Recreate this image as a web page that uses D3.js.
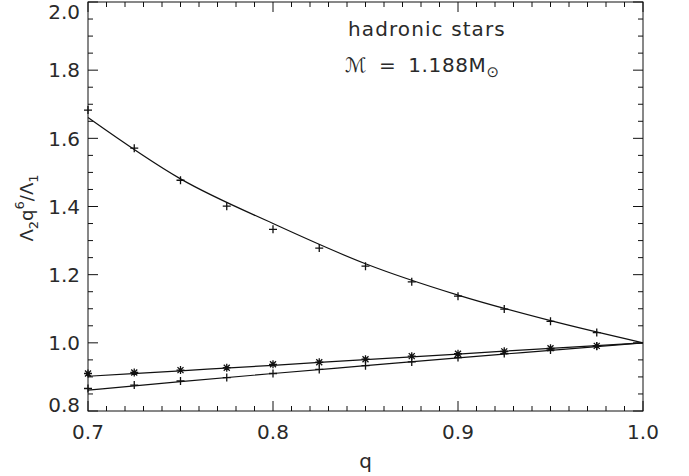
<!DOCTYPE html>
<html lang="en">
<head>
    <meta charset="UTF-8">
    <title>hadronic stars</title>
    <script src="https://d3js.org/d3.v7.min.js"></script>
    <style>
        body { margin: 0; background: #fff; }
        text { font-family: "DejaVu Sans", sans-serif; fill: #2a2a2a; }
    </style>
</head>
<body>
    <div id="svg-element"></div>
    <script>
        // sampled q values (markers)
        var qPoints = [0.7, 0.725, 0.75, 0.775, 0.8, 0.825, 0.85, 0.875, 0.9, 0.925, 0.95, 0.975];
        var upperPlus = [1.683, 1.571, 1.477, 1.401, 1.333, 1.278, 1.225, 1.179, 1.137, 1.099, 1.063, 1.030];
        var lowerStar = [0.910, 0.913, 0.920, 0.927, 0.937, 0.943, 0.952, 0.961, 0.968, 0.975, 0.984, 0.991];
        var lowerPlus = [0.866, 0.876, 0.888, 0.898, 0.910, 0.922, 0.933, 0.944, 0.957, 0.969, 0.979, 0.990];
        // fitted curves
        var fitQ = [0.7, 0.75, 0.8, 0.85, 0.9, 0.95, 1.0];
        var upperFit = [1.661, 1.481, 1.350, 1.232, 1.140, 1.065, 1.0];
        var starFit = [0.902, 0.918, 0.934, 0.951, 0.967, 0.984, 1.0];
        var plusFit = [0.861, 0.886, 0.910, 0.933, 0.956, 0.978, 1.0];

        var xTicks = [0.7, 0.8, 0.9, 1.0];
        var yTicks = [0.8, 1.0, 1.2, 1.4, 1.6, 1.8, 2.0];

        var width = 689, height = 476;
        var plotLeft = 88, plotRight = 643, plotTop = 2, plotBottom = 411;

        var x = d3.scaleLinear().domain([0.7, 1.0]).range([plotLeft, plotRight]);
        var y = d3.scaleLinear().domain([0.8, 2.0]).range([plotBottom, plotTop]);

        var svg = d3.select('#svg-element')
            .append('svg')
            .attr('width', width)
            .attr('height', height);

        // ticks on all four sides, pointing inward
        var xMinor = d3.range(70, 101).map(function(d) { return d / 100; });
        var yMinor = d3.range(16, 41).map(function(d) { return d / 20; });

        var axes = svg.append('g').attr('stroke', '#111').attr('stroke-width', 1);

        function isMajor(v, list) {
            return list.some(function(t) { return Math.abs(t - v) < 1e-6; });
        }

        xMinor.forEach(function(v) {
            var len = isMajor(v, xTicks) ? 10 : 5;
            axes.append('line').attr('x1', x(v)).attr('x2', x(v)).attr('y1', plotBottom).attr('y2', plotBottom - len);
            axes.append('line').attr('x1', x(v)).attr('x2', x(v)).attr('y1', plotTop).attr('y2', plotTop + len);
        });
        yMinor.forEach(function(v) {
            var len = isMajor(v, yTicks) ? 10 : 5;
            axes.append('line').attr('x1', plotLeft).attr('x2', plotLeft + len).attr('y1', y(v)).attr('y2', y(v));
            axes.append('line').attr('x1', plotRight).attr('x2', plotRight - len).attr('y1', y(v)).attr('y2', y(v));
        });

        axes.append('rect')
            .attr('x', plotLeft).attr('y', plotTop)
            .attr('width', plotRight - plotLeft).attr('height', plotBottom - plotTop)
            .attr('fill', 'none');

        // tick labels
        svg.selectAll('.xlab').data(xTicks).enter()
            .append('text')
            .attr('x', function(d) { return x(d); })
            .attr('y', plotBottom + 28)
            .attr('text-anchor', 'middle')
            .attr('font-size', 20)
            .text(function(d) { return d.toFixed(1); });

        svg.selectAll('.ylab').data(yTicks).enter()
            .append('text')
            .attr('x', plotLeft - 8)
            .attr('y', function(d) { return Math.min(405, Math.max(12, y(d))); })
            .attr('dy', '0.36em')
            .attr('text-anchor', 'end')
            .attr('font-size', 20)
            .text(function(d) { return d.toFixed(1); });

        // axis titles
        svg.append('text')
            .attr('x', x(0.85))
            .attr('y', 468)
            .attr('text-anchor', 'middle')
            .attr('font-size', 20)
            .text('q');

        var ylab = svg.append('text')
            .attr('transform', 'translate(33,208) rotate(-90)')
            .attr('text-anchor', 'middle')
            .attr('font-size', 18);
        ylab.append('tspan').text('\u039b');
        ylab.append('tspan').attr('font-size', 13).attr('dy', 5).text('2');
        ylab.append('tspan').attr('dy', -5).text('q');
        ylab.append('tspan').attr('font-size', 13).attr('dy', -9).text('6');
        ylab.append('tspan').attr('dy', 9).text('/\u039b');
        ylab.append('tspan').attr('font-size', 13).attr('dy', 5).text('1');

        // annotation
        svg.append('text')
            .attr('x', 348).attr('y', 36)
            .attr('font-size', 20)
            .attr('letter-spacing', 1.1)
            .text('hadronic stars');

        var mt = svg.append('text')
            .attr('x', 345).attr('y', 72)
            .attr('font-size', 20)
            .attr('letter-spacing', 0.6)
            .attr('word-spacing', 5);
        mt.append('tspan').attr('font-style', 'italic').text('\u2133');
        mt.append('tspan').text(' = 1.188M');
        mt.append('tspan').attr('font-size', 15).attr('dy', 5).text('\u2299');

        // fitted curves
        var line = d3.line()
            .x(function(d) { return x(d[0]); })
            .y(function(d) { return y(d[1]); })
            .curve(d3.curveMonotoneX);

        [upperFit, starFit, plusFit].forEach(function(vals) {
            svg.append('path')
                .datum(fitQ.map(function(q, i) { return [q, vals[i]]; }))
                .attr('d', line)
                .attr('fill', 'none')
                .attr('stroke', '#111')
                .attr('stroke-width', 1.2);
        });

        // markers
        var plusPath = 'M-4,0H4M0,-4V4';
        var starPath = 'M-4,0H4M0,-4V4M-3,-3L3,3M-3,3L3,-3';

        function drawMarkers(vals, path) {
            svg.append('g').selectAll('path')
                .data(qPoints.map(function(q, i) { return [q, vals[i]]; }))
                .enter()
                .append('path')
                .attr('transform', function(d) { return 'translate(' + x(d[0]) + ',' + y(d[1]) + ')'; })
                .attr('d', path)
                .attr('stroke', '#111')
                .attr('stroke-width', 1.3)
                .attr('fill', 'none');
        }
        drawMarkers(upperPlus, plusPath);
        drawMarkers(lowerStar, starPath);
        drawMarkers(lowerPlus, plusPath);
    </script>
</body>
</html>
